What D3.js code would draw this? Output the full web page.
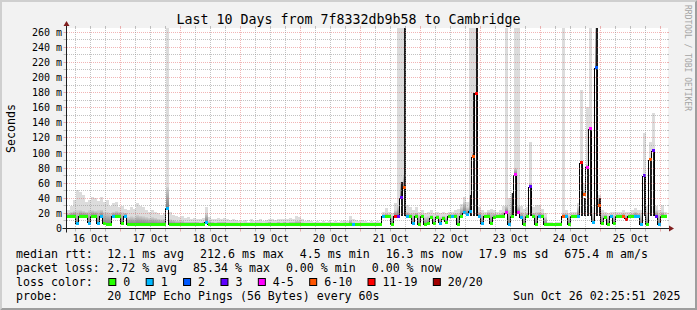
<!DOCTYPE html>
<html>
<head>
<meta charset="utf-8">
<script src="https://cdn.jsdelivr.net/npm/d3@7/dist/d3.min.js"></script>
<style>
html,body{margin:0;padding:0;background:#f2f2f2;overflow:hidden;}
svg{display:block;}
text{font-family:"DejaVu Sans Mono",monospace;fill:#000;}
</style>
</head>
<body>
<svg id="chart" width="697" height="310" xmlns="http://www.w3.org/2000/svg"></svg>
<script>
// ---------------- data ----------------
const title = "Last 10 Days from 7f8332db9b58 to Cambridge";
const yAxisTitle = "Seconds";
const watermark = "RRDTOOL / TOBI OETIKER";
const endTime = new Date(Date.UTC(2025, 9, 26, 2, 25, 51));
const spanDays = 10;
const stepMinutes = 72;            // one sample bucket
const yMax = 264.9;                // ms, top of canvas

// median rtt per bucket (ms)
const median = [
 16,16,16,6,16,16,16,7,16,16,
 6,16,6,5,5,16,16,16,6,16,
 5,5,5,5,5,5,5,5,5,5,
 5,5,5,27,5,5,5,5,5,5,
 5,5,5,5,5,5,8,5,5,5,
 5,5,5,5,5,5,5,5,5,5,
 5,5,5,5,5,5,5,5,5,5,
 5,5,5,5,5,5,5,5,5,5,
 5,5,5,5,5,5,5,5,5,5,
 5,5,5,5,5,5,5,5,5,5,
 5,5,5,5,5,16,16,16,5,16,
 16,41,54,16,16,6,16,5,16,5,
 6,14,6,15,7,13,8,16,16,16,
 5,16,21,19,23,95,179,16,6,16,
 16,6,15,16,16,16,21,5,16,71,
 21,14,5,16,55,16,5,16,16,5,
 5,5,5,5,5,16,16,5,16,16,
 16,87,45,81,132,8,212.6,31,6,14,
 5,16,6,16,16,16,12,16,16,16,
 16,5,70,5,91,103,16,5,16,16.3
];
// loss class index per bucket (index into lossLabels)
const loss = [
 0,0,0,1,0,0,0,1,0,0,
 1,1,0,0,0,1,0,0,0,1,
 0,0,0,0,0,0,0,0,0,0,
 0,0,0,1,0,0,0,0,0,0,
 0,0,0,0,0,0,1,0,0,0,
 0,0,0,0,0,0,0,0,0,0,
 0,0,0,0,0,0,0,0,0,0,
 0,0,0,0,0,0,0,0,0,0,
 0,0,0,0,0,0,0,0,0,0,
 0,0,0,0,0,1,0,0,0,0,
 0,0,0,0,0,1,0,0,0,6,
 3,3,5,1,0,1,0,0,0,0,
 0,0,0,0,1,0,0,0,1,0,
 0,0,1,1,1,5,6,1,1,0,
 0,0,0,0,0,0,4,1,0,4,
 4,1,0,0,3,0,0,1,0,0,
 0,0,0,0,0,5,1,0,0,0,
 1,6,5,4,4,1,2,5,0,0,
 0,1,0,0,0,5,6,0,0,1,
 1,1,3,0,5,3,3,1,0,0
];
// highest ping of the bucket (light smoke top, ms)
const smokeHigh = [
 25,30,38,51,48,45,35,38,42,40,
 36,42,35,38,30,34,35,28,30,26,
 25,28,26,34,30,28,25,22,24,22,
 20,18,20,266,22,18,16,15,17,14,
 15,13,14,13,12,14,29,15,13,12,
 14,13,14,12,11,12,11,10,10,11,
 9,12,10,11,12,10,11,13,12,11,
 13,12,13,12,14,13,16,15,12,10,
 11,10,9,10,9,10,9,10,9,10,
 9,10,11,10,16,12,11,10,11,10,
 9,10,9,10,9,22,27,22,20,34,
 266,266,266,31,28,25,28,22,24,20,
 22,24,20,22,20,22,20,22,22,24,
 26,32,42,35,266,266,266,28,24,22,
 25,26,24,22,24,30,266,40,30,266,
 266,30,26,28,115,28,31,31,26,20,
 8,8,7,8,8,266,24,20,22,22,
 34,184,60,161,266,28,266,45,24,22,
 20,22,22,22,22,24,22,22,24,27,
 24,24,127,30,114,153,30,24,31,22
];
// inner smoke top (dense pings, ms)
const smokeMid = [
 20,22,23,24,24,23,22,24,24,23,
 24,25,22,22,21,22,23,22,22,21,
 15,16,15,18,17,16,15,14,15,14,
 13,12,13,55,12,11,10,10,10,9,
 9,9,9,9,8,9,20,10,9,8,
 9,9,9,8,8,8,8,7,7,8,
 7,8,7,8,8,7,8,9,8,8,
 9,8,9,8,9,9,10,10,8,7,
 7,7,7,7,7,7,7,7,7,7,
 7,7,8,7,11,8,7,7,7,7,
 7,7,7,7,7,19,20,19,17,24,
 30,62,70,22,20,20,21,18,19,15,
 16,18,15,18,15,17,15,19,19,20,
 20,28,35,28,45,100,100,22,20,19,
 22,22,20,19,20,22,30,25,47,80,
 30,22,20,21,60,21,22,22,20,15,
 6,6,6,6,6,20,20,17,19,19,
 28,90,50,85,135,20,266,41,20,19,
 16,19,18,19,19,20,18,19,20,22,
 20,20,72,22,92,105,24,20,22,19
];
// core (black) smoke top, 0 = none (ms)
const smokeDark = [
 0,0,0,0,0,0,0,0,0,0,
 0,0,0,0,0,0,0,0,0,0,
 0,0,0,0,0,0,0,0,0,0,
 0,0,0,0,0,0,0,0,0,0,
 0,0,0,0,0,0,0,0,0,0,
 0,0,0,0,0,0,0,0,0,0,
 0,0,0,0,0,0,0,0,0,0,
 0,0,0,0,0,0,0,0,0,0,
 0,0,0,0,0,0,0,0,0,0,
 0,0,0,0,0,0,0,0,0,0,
 0,0,0,0,0,0,0,0,0,0,
 0,62,266,0,0,0,0,0,0,0,
 0,0,0,0,0,0,0,0,0,0,
 0,0,0,0,45,179,266,0,0,0,
 0,0,0,0,0,0,0,0,47,74,
 0,0,0,0,55,0,0,0,0,0,
 0,0,0,0,0,0,0,0,0,0,
 0,87,41,80,132,0,266,41,0,0,
 0,0,0,0,0,0,0,0,0,0,
 0,0,70,0,91,103,0,0,0,0
];
const darkBase = 16;

const lossLabels = ["0","1","2","3","4-5","6-10","11-19","20/20"];
const lossColors = ["#26ff00","#00b8ff","#0059ff","#5e00ff","#ff00ff","#ff5500","#ff0000","#a10000"];

const yTicks = [0,20,40,60,80,100,120,140,160,180,200,220,240,260];
const yTickLabels = ["0","20 m","40 m","60 m","80 m","100 m","120 m","140 m","160 m","180 m","200 m","220 m","240 m","260 m"];
const yMinorTicks = [10,30,50,70,90,110,130,150,170,190,210,230,250];
const xTickLabels = ["16 Oct","17 Oct","18 Oct","19 Oct","20 Oct","21 Oct","22 Oct","23 Oct","24 Oct","25 Oct"];

const rttLabel = "median rtt:";
const rttStats = ["12.1 ms avg","212.6 ms max","4.5 ms min","16.3 ms now","17.9 ms sd","675.4 m am/s"];
const lossLabel = "packet loss:";
const lossStats = ["2.72 % avg","85.34 % max","0.00 % min","0.00 % now"];
const colorLabel = "loss color:";
const probeLabel = "probe:";
const probeText = "20 ICMP Echo Pings (56 Bytes) every 60s";
const stampText = "Sun Oct 26 02:25:51 2025";

// ---------------- drawing ----------------
const W = 697, H = 310;
const plotLeft = 67, plotRight = 667, plotTop = 28, axisY = 228.5, axisX = 66.5;
const startTime = new Date(endTime.getTime() - spanDays * 86400000);
const x = d3.scaleUtc().domain([startTime, endTime]).range([plotLeft, plotRight]);
const y = d3.scaleLinear().domain([0, yMax]).range([axisY, plotTop + 0.5]);
const times = median.map((_, i) => new Date(startTime.getTime() + i * stepMinutes * 60000));
const bx = i => x(times[i]);
const bw = i => x(new Date(times[i].getTime() + stepMinutes * 60000)) - x(times[i]);

const svg = d3.select("#chart");
const defs = svg.append("defs");
defs.append("clipPath").attr("id", "plotclip").append("rect")
  .attr("x", plotLeft).attr("y", plotTop).attr("width", plotRight - plotLeft).attr("height", axisY - plotTop);
const grad = defs.append("linearGradient").attr("id", "smk").attr("x1", 0).attr("y1", 1).attr("x2", 0).attr("y2", 0);
grad.append("stop").attr("offset", 0).attr("stop-color", "#7c7c7c");
grad.append("stop").attr("offset", 1).attr("stop-color", "#d2d2d2");

// background + shading frame
svg.append("rect").attr("width", W).attr("height", H).attr("fill", "#f2f2f2");
svg.append("polygon").attr("points", `0,${H} 2,${H-2} 2,2 ${W-2},2 ${W},0 0,0`).attr("fill", "#cfcfcf");
svg.append("polygon").attr("points", `2,${H-2} ${W-2},${H-2} ${W-2},2 ${W},0 ${W},${H} 0,${H}`).attr("fill", "#9e9e9e");
// canvas
svg.append("rect").attr("x", plotLeft).attr("y", plotTop).attr("width", plotRight - plotLeft + 1)
  .attr("height", axisY - plotTop + 0.5).attr("fill", "#ffffff");

const data = svg.append("g").attr("clip-path", "url(#plotclip)").attr("shape-rendering", "crispEdges");
const idx = d3.range(median.length);

// light smoke
data.selectAll("rect.light").data(idx.filter(i => smokeHigh[i] > median[i])).join("rect")
  .attr("class", "light")
  .attr("x", i => bx(i)).attr("width", i => bw(i))
  .attr("y", i => y(smokeHigh[i])).attr("height", i => y(median[i]) - y(smokeHigh[i]))
  .attr("fill", "#dcdcdc");
// inner smoke
data.selectAll("rect.mid").data(idx.filter(i => smokeMid[i] > median[i])).join("rect")
  .attr("class", "mid")
  .attr("x", i => bx(i)).attr("width", i => bw(i))
  .attr("y", i => y(smokeMid[i])).attr("height", i => y(median[i]) - y(smokeMid[i]))
  .attr("fill", "url(#smk)");
// black core
data.selectAll("rect.dark").data(idx.filter(i => smokeDark[i] > 0)).join("rect")
  .attr("class", "dark")
  .attr("x", i => bx(i) + 1).attr("width", 2)
  .attr("y", i => y(smokeDark[i])).attr("height", i => y(darkBase) - y(smokeDark[i]))
  .attr("fill", "#1c1c1c");

// median connectors
const conn = idx.slice(0, -1).filter(i => median[i] !== median[i + 1]);
data.selectAll("line.conn").data(conn).join("line")
  .attr("class", "conn")
  .attr("x1", i => bx(i + 1) - 0.5).attr("x2", i => bx(i + 1) - 0.5)
  .attr("y1", i => y(median[i])).attr("y2", i => y(median[i + 1]))
  .attr("stroke", "#000").attr("stroke-width", 1);
// median bands coloured by loss
data.selectAll("rect.med").data(idx).join("rect")
  .attr("class", "med")
  .attr("x", i => bx(i)).attr("width", i => bw(i))
  .attr("y", i => y(median[i]) - 1.5).attr("height", 3)
  .attr("fill", i => lossColors[loss[i]]);

// grid (drawn over the data like rrdtool)
const grid = svg.append("g");
const minorCol = "rgba(143,143,143,0.55)", majorCol = "rgba(222,79,79,0.42)";
const snap = v => Math.round(v - 0.5) + 0.5;
function hline(v, col) {
  const yy = snap(y(v));
  grid.append("line").attr("x1", plotLeft).attr("x2", plotRight).attr("y1", yy).attr("y2", yy)
    .attr("stroke", col).attr("stroke-dasharray", "1,1");
  grid.append("line").attr("x1", axisX - 3).attr("x2", axisX).attr("y1", yy).attr("y2", yy).attr("stroke", col);
  grid.append("line").attr("x1", plotRight).attr("x2", plotRight + 2).attr("y1", yy).attr("y2", yy).attr("stroke", col);
}
yMinorTicks.forEach(v => hline(v, minorCol));
yTicks.filter(v => v > 0).forEach(v => hline(v, majorCol));

const hours6 = d3.utcHour.every(6).range(startTime, endTime);
hours6.forEach(t => {
  const major = t.getUTCHours() === 0;
  const col = major ? majorCol : minorCol;
  const xx = snap(x(t));
  grid.append("line").attr("x1", xx).attr("x2", xx).attr("y1", plotTop).attr("y2", axisY)
    .attr("stroke", col).attr("stroke-dasharray", "1,1");
  grid.append("line").attr("x1", xx).attr("x2", xx).attr("y1", axisY).attr("y2", axisY + 3).attr("stroke", col);
  grid.append("line").attr("x1", xx).attr("x2", xx).attr("y1", plotTop - 2).attr("y2", plotTop).attr("stroke", col);
});

// axes + arrows
svg.append("line").attr("x1", axisX - 4).attr("x2", plotRight + 4).attr("y1", axisY).attr("y2", axisY).attr("stroke", "#1f1f1f");
svg.append("line").attr("x1", axisX).attr("x2", axisX).attr("y1", axisY + 4).attr("y2", plotTop - 4).attr("stroke", "#1f1f1f");
svg.append("polygon").attr("points", `${plotRight + 2},${axisY - 3} ${plotRight + 2},${axisY + 3} ${plotRight + 7},${axisY}`).attr("fill", "#801f1f");
svg.append("polygon").attr("points", `${axisX - 3},${plotTop - 2} ${axisX + 3},${plotTop - 2} ${axisX},${plotTop - 7}`).attr("fill", "#801f1f");

// axis labels
const tickFont = 10;
svg.append("g").selectAll("text").data(yTicks).join("text")
  .attr("x", 62).attr("y", v => y(v) + 3.6).attr("text-anchor", "end")
  .attr("font-size", tickFont).text((v, j) => yTickLabels[j]);
const firstDay = d3.utcDay.floor(startTime);
svg.append("g").selectAll("text").data(xTickLabels).join("text")
  .attr("x", (s, j) => x(d3.utcHour.offset(d3.utcDay.offset(firstDay, j), 12)))
  .attr("y", 241.5).attr("text-anchor", "middle").attr("font-size", tickFont).text(s => s);

// title, y title, watermark
svg.append("text").attr("x", W / 2).attr("y", 24).attr("text-anchor", "middle")
  .attr("font-size", 13.3).text(title);
svg.append("text").attr("transform", "translate(15,128.5) rotate(-90)").attr("text-anchor", "middle")
  .attr("font-size", 11.6).text(yAxisTitle);
svg.append("text").attr("transform", "translate(685,5) rotate(90)")
  .attr("font-size", 8).style("fill", "#a4a4a4").text(watermark);

// legend
const lg = svg.append("g").attr("font-size", 11.6).style("white-space", "pre");
const rows = [258.3, 272.3, 286.3, 300.3];
const valX = 107.3, gap = 16;
function flow(rowY, items) {
  let cx = valX;
  items.forEach(s => {
    const t = lg.append("text").attr("x", cx).attr("y", rowY).text(s);
    cx += t.node().getComputedTextLength() + gap;
  });
}
lg.append("text").attr("x", 16).attr("y", rows[0]).text(rttLabel);
flow(rows[0], rttStats);
lg.append("text").attr("x", 16).attr("y", rows[1]).text(lossLabel);
flow(rows[1], lossStats);
lg.append("text").attr("x", 16).attr("y", rows[2]).text(colorLabel);
let cx = valX + 1;
lossLabels.forEach((s, j) => {
  lg.append("rect").attr("x", cx + 0.5).attr("y", rows[2] - 7.8).attr("width", 7).attr("height", 7)
    .attr("fill", lossColors[j]).attr("stroke", "#000").attr("stroke-width", 1);
  const t = lg.append("text").attr("x", cx + 15).attr("y", rows[2]).text(s);
  cx += 15 + t.node().getComputedTextLength() + 15.4;
});
lg.append("text").attr("x", 16).attr("y", rows[3]).text(probeLabel);
lg.append("text").attr("x", valX).attr("y", rows[3]).text(probeText);
lg.append("text").attr("x", 680.5).attr("y", rows[3]).attr("text-anchor", "end").text(stampText);

// sanity check on array lengths
const lens = [median, loss, smokeHigh, smokeMid, smokeDark].map(a => a.length);
if (lens.some(l => l !== 200)) svg.append("text").attr("x", 300).attr("y", 100).style("fill", "red").text("len " + lens.join(","));
</script>
</body>
</html>
